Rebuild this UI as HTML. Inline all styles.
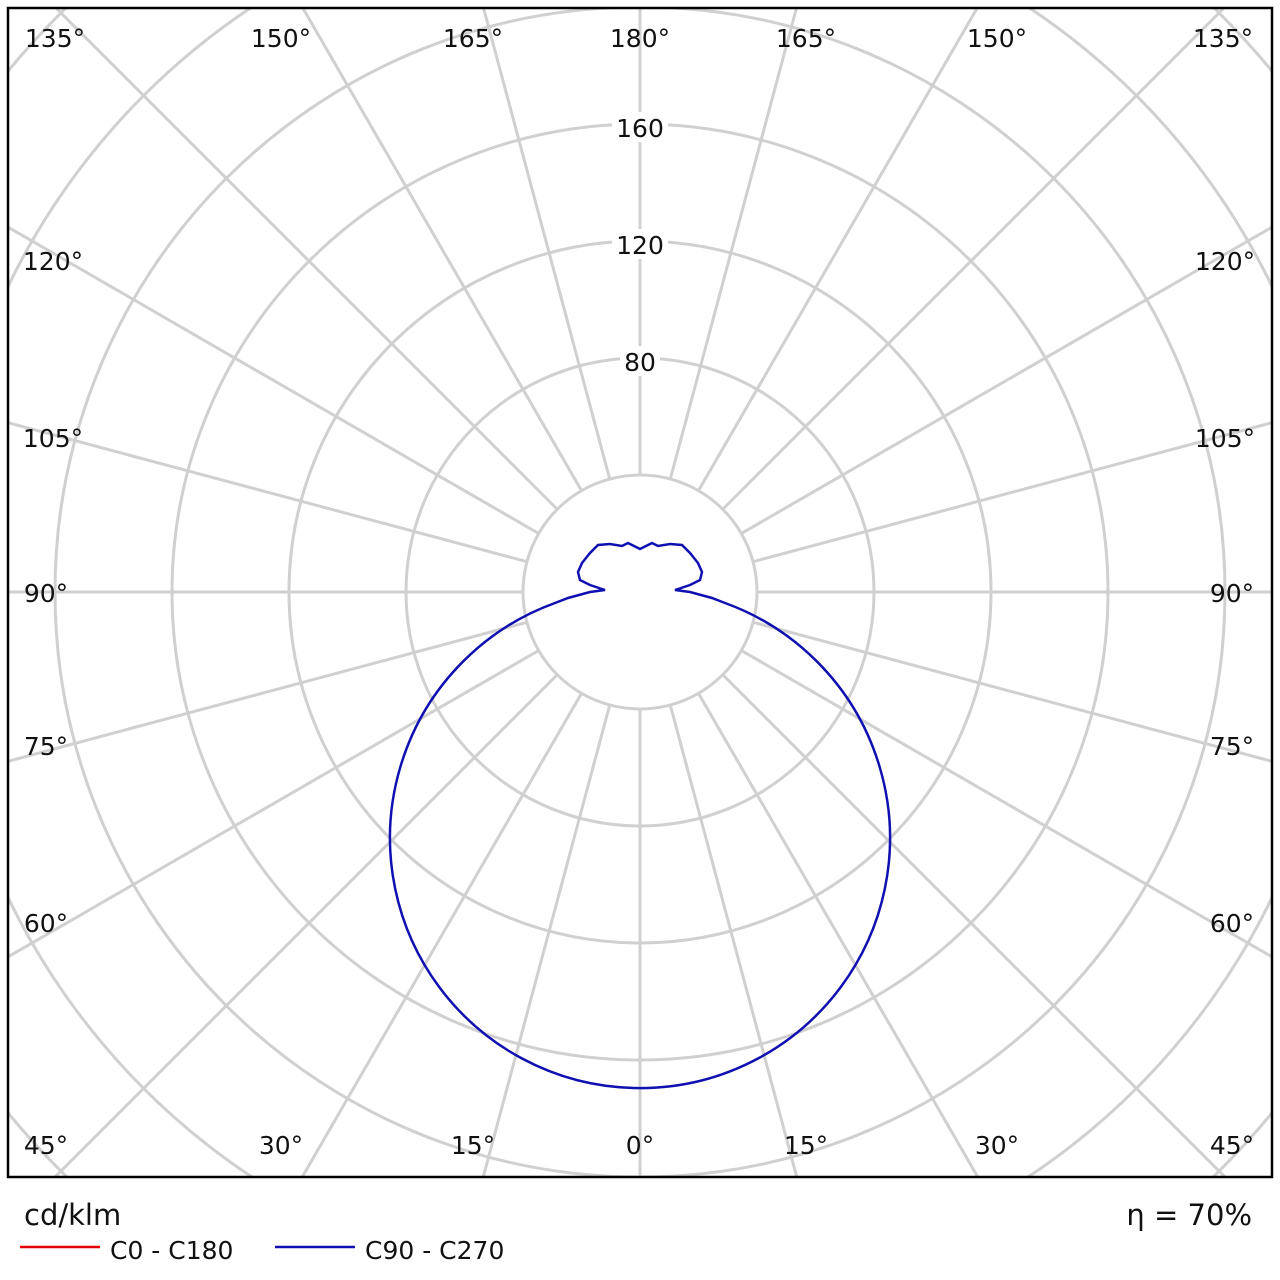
<!DOCTYPE html>
<html><head><style>
html,body{margin:0;background:#fff;overflow:hidden;width:1280px;height:1280px}
svg{display:block}
svg text{font-family:"DejaVu Sans","Liberation Sans",sans-serif;font-size:25px;fill:#111}
</style></head><body>
<svg width="1280" height="1280" xmlns="http://www.w3.org/2000/svg">
<defs><clipPath id="c"><rect x="8" y="8" width="1264" height="1169"/></clipPath></defs>
<g clip-path="url(#c)" stroke="#d0d0d0" stroke-width="3" fill="none">
<circle cx="640" cy="592" r="117"/>
<circle cx="640" cy="592" r="234"/>
<circle cx="640" cy="592" r="351"/>
<circle cx="640" cy="592" r="468"/>
<circle cx="640" cy="592" r="585"/>
<circle cx="640" cy="592" r="702"/>
<circle cx="640" cy="592" r="819"/>
<g>
<line x1="640" y1="709" x2="640" y2="1500"/>
<line x1="640" y1="709" x2="640" y2="1500" transform="rotate(15 640 592)"/>
<line x1="640" y1="709" x2="640" y2="1500" transform="rotate(30 640 592)"/>
<line x1="640" y1="709" x2="640" y2="1500" transform="rotate(45 640 592)"/>
<line x1="640" y1="709" x2="640" y2="1500" transform="rotate(60 640 592)"/>
<line x1="640" y1="709" x2="640" y2="1500" transform="rotate(75 640 592)"/>
<line x1="640" y1="709" x2="640" y2="1500" transform="rotate(90 640 592)"/>
<line x1="640" y1="709" x2="640" y2="1500" transform="rotate(105 640 592)"/>
<line x1="640" y1="709" x2="640" y2="1500" transform="rotate(120 640 592)"/>
<line x1="640" y1="709" x2="640" y2="1500" transform="rotate(135 640 592)"/>
<line x1="640" y1="709" x2="640" y2="1500" transform="rotate(150 640 592)"/>
<line x1="640" y1="709" x2="640" y2="1500" transform="rotate(165 640 592)"/>
<line x1="640" y1="709" x2="640" y2="1500" transform="rotate(180 640 592)"/>
<line x1="640" y1="709" x2="640" y2="1500" transform="rotate(195 640 592)"/>
<line x1="640" y1="709" x2="640" y2="1500" transform="rotate(210 640 592)"/>
<line x1="640" y1="709" x2="640" y2="1500" transform="rotate(225 640 592)"/>
<line x1="640" y1="709" x2="640" y2="1500" transform="rotate(240 640 592)"/>
<line x1="640" y1="709" x2="640" y2="1500" transform="rotate(255 640 592)"/>
<line x1="640" y1="709" x2="640" y2="1500" transform="rotate(270 640 592)"/>
<line x1="640" y1="709" x2="640" y2="1500" transform="rotate(285 640 592)"/>
<line x1="640" y1="709" x2="640" y2="1500" transform="rotate(300 640 592)"/>
<line x1="640" y1="709" x2="640" y2="1500" transform="rotate(315 640 592)"/>
<line x1="640" y1="709" x2="640" y2="1500" transform="rotate(330 640 592)"/>
<line x1="640" y1="709" x2="640" y2="1500" transform="rotate(345 640 592)"/>
</g>
</g>
<g fill="#fff">
<rect x="612" y="112" width="56" height="30"/>
<rect x="612" y="229" width="56" height="30"/>
<rect x="620" y="346" width="40" height="30"/>
</g>
<g text-anchor="middle">
<text x="640" y="137">160</text>
<text x="640" y="254">120</text>
<text x="640" y="371">80</text>
<text x="55" y="47">135°</text><text x="281" y="47">150°</text><text x="473" y="47">165°</text>
<text x="640" y="47">180°</text><text x="806" y="47">165°</text><text x="997" y="47">150°</text><text x="1223" y="47">135°</text>
<text x="53" y="270">120°</text><text x="1225" y="270">120°</text>
<text x="53" y="447">105°</text><text x="1225" y="447">105°</text>
<text x="46" y="602">90°</text><text x="1232" y="602">90°</text>
<text x="46" y="755">75°</text><text x="1232" y="755">75°</text>
<text x="46" y="932">60°</text><text x="1232" y="932">60°</text>
<text x="46" y="1154">45°</text><text x="1232" y="1154">45°</text>
<text x="281" y="1154">30°</text><text x="473" y="1154">15°</text><text x="640" y="1154">0°</text>
<text x="806" y="1154">15°</text><text x="997" y="1154">30°</text>
</g>
<path d="M640 549 L634 546 L628 543 L622 546 L610 544 L598 545 L590 553 L582 563 L578 572 L580 580 L590 585 L605 590 L590 592 L568 598 L555 603 A250 250 0 1 0 725 603 L712 598 L690 592 L675 590 L690 585 L700 580 L702 572 L698 563 L690 553 L682 545 L670 544 L658 546 L652 543 L646 546 Z" fill="none" stroke="#1010b0" stroke-width="2.5"/>
<rect x="8" y="8" width="1264" height="1169" fill="none" stroke="#000" stroke-width="2.5"/>
<text x="24" y="1225" style="font-size:29px">cd/klm</text>
<text x="1252" y="1225" text-anchor="end" style="font-size:29px">η = 70%</text>
<line x1="20" y1="1247" x2="100" y2="1247" stroke="#e00000" stroke-width="2.5"/>
<text x="110" y="1259">C0 - C180</text>
<line x1="275" y1="1247" x2="355" y2="1247" stroke="#1010b0" stroke-width="2.5"/>
<text x="365" y="1259">C90 - C270</text>
</svg>
</body></html>
